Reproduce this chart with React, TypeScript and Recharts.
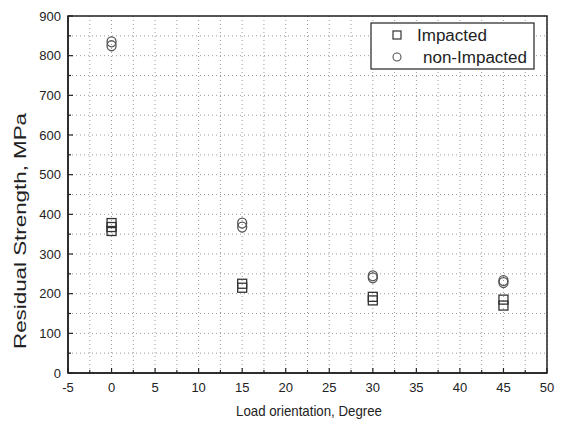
import { CartesianGrid, ReferenceArea, Scatter, ScatterChart, XAxis, YAxis } from "recharts"

const impactedAngle = [0, 0, 0, 15, 15, 30, 30, 45, 45]
const impactedStrength = [378, 368, 358, 225, 215, 192, 183, 185, 170]

const nonImpactedAngle = [0, 0, 15, 15, 30, 30, 45, 45]
const nonImpactedStrength = [835, 825, 378, 368, 245, 240, 233, 228]

const xMajor = [-5, 0, 5, 10, 15, 20, 25, 30, 35, 40, 45, 50]
const xMinor = [-2.5, 2.5, 7.5, 12.5, 17.5, 22.5, 27.5, 32.5, 37.5, 42.5, 47.5]
const yMajor = [0, 100, 200, 300, 400, 500, 600, 700, 800, 900]
const yMinor = [50, 150, 250, 350, 450, 550, 650, 750, 850]

const impacted = impactedAngle.map((x, i) => ({ x, y: impactedStrength[i] }))
const nonImpacted = nonImpactedAngle.map((x, i) => ({ x, y: nonImpactedStrength[i] }))

const xTicks = [...xMajor, ...xMinor].sort((a, b) => a - b)
const yTicks = [...yMajor, ...yMinor].sort((a, b) => a - b)

const font = "'Liberation Sans', Arial, sans-serif"
const ink = "#222"

const XTick = (props: any) => {
  const { x, y, payload } = props
  const major = xMajor.includes(payload.value)
  return (
    <g>
      <line x1={x} x2={x} y1={y} y2={y - (major ? 5 : 3)} stroke={ink} strokeWidth={1.2} />
      {major && (
        <text x={x} y={y + 19} textAnchor="middle" fontSize={13} fill={ink} fontFamily={font}>
          {payload.value}
        </text>
      )}
    </g>
  )
}

const YTick = (props: any) => {
  const { x, y, payload } = props
  const major = yMajor.includes(payload.value)
  return (
    <g>
      <line x1={x} x2={x + (major ? 5 : 3)} y1={y} y2={y} stroke={ink} strokeWidth={1.2} />
      {major && (
        <text x={x - 7} y={y + 4.5} textAnchor="end" fontSize={13} fill={ink} fontFamily={font}>
          {payload.value}
        </text>
      )}
    </g>
  )
}

const Square = (props: any) => {
  const { cx, cy } = props
  return <rect x={cx - 4.5} y={cy - 4.5} width={9} height={9} fill="none" stroke="#333" strokeWidth={1.3} />
}

const Ring = (props: any) => {
  const { cx, cy } = props
  return <ellipse cx={cx} cy={cy} rx={4.5} ry={5} fill="none" stroke="#555" strokeWidth={1.3} />
}

export default function App() {
  return (
    <div style={{ position: "absolute", left: 0, top: 0, background: "#fff" }}>
      <ScatterChart width={565} height={427} margin={{ top: 16, right: 18, bottom: 14, left: 8 }}>
        <CartesianGrid
          stroke="#9a9a9a"
          strokeDasharray="1 3"
          verticalValues={xTicks}
          horizontalValues={yTicks}
        />
        <XAxis
          type="number"
          dataKey="x"
          domain={[-5, 50]}
          ticks={xTicks}
          interval={0}
          height={40}
          tickSize={0}
          tickMargin={0}
          tick={<XTick />}
          axisLine={{ stroke: ink, strokeWidth: 1.5 }}
          allowDataOverflow
        />
        <YAxis
          type="number"
          dataKey="y"
          domain={[0, 900]}
          ticks={yTicks}
          interval={0}
          width={60}
          tickSize={0}
          tickMargin={0}
          tick={<YTick />}
          axisLine={{ stroke: ink, strokeWidth: 1.5 }}
          allowDataOverflow
        />
        <ReferenceArea x1={-5} x2={50} y1={0} y2={900} fill="none" stroke={ink} strokeWidth={1.5} />
        <Scatter name="Impacted" data={impacted} shape={<Square />} isAnimationActive={false} />
        <Scatter name="non-Impacted" data={nonImpacted} shape={<Ring />} isAnimationActive={false} />
        <text
          x={309}
          y={416}
          textAnchor="middle"
          fontSize={15}
          fill={ink}
          fontFamily={font}
          textLength={146}
          lengthAdjust="spacingAndGlyphs"
        >
          Load orientation, Degree
        </text>
        <text
          x={26}
          y={231}
          textAnchor="middle"
          fontSize={16}
          fill={ink}
          fontFamily={font}
          textLength={236}
          lengthAdjust="spacingAndGlyphs"
          transform="rotate(-90 26 231)"
        >
          Residual Strength, MPa
        </text>
        <g>
          <rect x={371} y={23} width={163} height={46} fill="#fff" stroke={ink} strokeWidth={1.2} />
          <rect x={393} y={31} width={8} height={8} fill="none" stroke="#333" strokeWidth={1.2} />
          <text x={417} y={41} fontSize={16} fill={ink} fontFamily={font} textLength={70} lengthAdjust="spacingAndGlyphs">
            Impacted
          </text>
          <circle cx={397} cy={57} r={4} fill="none" stroke="#555" strokeWidth={1.1} />
          <text x={423} y={63} fontSize={16} fill={ink} fontFamily={font} textLength={104} lengthAdjust="spacingAndGlyphs">
            non-Impacted
          </text>
        </g>
      </ScatterChart>
    </div>
  )
}
